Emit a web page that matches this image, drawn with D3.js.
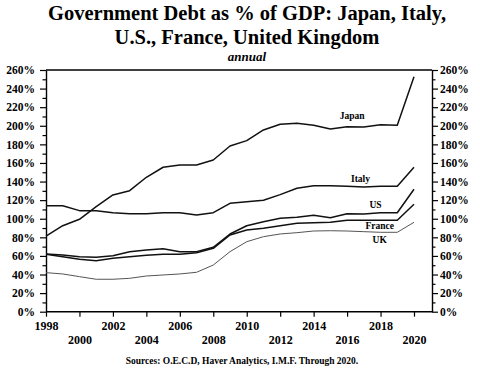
<!DOCTYPE html>
<html><head><meta charset="utf-8">
<script src="https://cdn.jsdelivr.net/npm/d3@7"></script>
<style>
body{margin:0;background:#fff;}
svg{display:block;font-family:"Liberation Serif","Times New Roman",serif;}
</style></head>
<body><svg id="c" width="480" height="369"></svg>
<script>
const years = d3.range(1998, 2021);
const japan  = [81.4,92.5,99.4,113,125.6,130.2,144.6,155.4,157.8,157.8,163.2,178.3,184,195.5,201.6,202.7,200.5,196.6,199,198.7,201.2,200.5,252.8];
const italy  = [114,114,108.7,108.7,106.5,105.4,105.4,106.5,106.5,104,106.5,116.6,118.3,119.9,125.9,132.8,135.6,135.6,134.9,134.2,134.9,134.9,155.4];
const us     = [62.1,61,59.2,58.5,60.2,64.6,66.4,67.8,64.6,64.6,69.3,83.6,92.5,96.8,100.5,101.6,103.7,101.1,105.4,105.1,106.5,106.5,131.7];
const france = [61.8,59.2,56.4,54.9,57.5,59.2,60.7,61.8,61.8,63.5,68.2,82.5,87.9,89.7,92.5,95.1,95.8,96.2,98.3,98.3,98.3,98.3,115.5];
const uk     = [42,40.6,37.7,34.9,34.9,35.9,38.4,39.5,40.6,42.4,50.2,64.6,75.3,80.7,83.6,85,86.8,87.1,86.8,86.1,85.4,85.4,96.2];
const seriesNames = ["Japan","Italy","US","France","UK"];
const yTicks = d3.range(0, 261, 20);
const xTicks = d3.range(1998, 2021, 2);

const svg = d3.select("#c");
const L = 46, R = 432, T = 70, B = 311.7;
const x = d3.scaleLinear().domain([1998, 2020]).range([L, 414]);
const y = d3.scaleLinear().domain([0, 260]).range([B, T]);

// title
svg.append("text").attr("x",247).attr("y",20).attr("text-anchor","middle")
  .attr("font-size",20.5).attr("font-weight","bold").text("Government Debt as % of GDP: Japan, Italy,");
svg.append("text").attr("x",247).attr("y",43.5).attr("text-anchor","middle")
  .attr("font-size",20.5).attr("font-weight","bold").text("U.S., France, United Kingdom");
svg.append("text").attr("x",247).attr("y",60.5).attr("text-anchor","middle")
  .attr("font-size",13).attr("font-weight","bold").attr("font-style","italic").text("annual");

// frame
svg.append("line").attr("x1",L).attr("x2",R).attr("y1",T).attr("y2",T).attr("stroke","#000").attr("stroke-width",1.4);

const fmt = d => d + "%";
function styleAxis(g){
  g.select(".domain").attr("stroke","#000").attr("stroke-width",1.4);
  g.selectAll(".tick line").attr("stroke","#000").attr("stroke-width",1.2);
  g.selectAll(".tick text").attr("font-family","Liberation Serif, serif").attr("font-weight","bold").attr("font-size",11.5).attr("fill","#000");
}
// minor ticks
const minor = d3.range(10, 260, 20);
svg.append("g").attr("transform",`translate(${L},0)`).call(d3.axisLeft(y).tickValues(minor).tickSize(3.5).tickFormat("").tickSizeOuter(0))
  .call(g=>{g.select(".domain").remove(); g.selectAll("line").attr("stroke","#000").attr("stroke-width",1.2);});
svg.append("g").attr("transform",`translate(${R},0)`).call(d3.axisRight(y).tickValues(minor).tickSize(3.5).tickFormat("").tickSizeOuter(0))
  .call(g=>{g.select(".domain").remove(); g.selectAll("line").attr("stroke","#000").attr("stroke-width",1.2);});

svg.append("g").attr("transform",`translate(${L},0)`)
  .call(d3.axisLeft(y).tickValues(yTicks).tickFormat(fmt).tickSize(6).tickSizeOuter(0).tickPadding(5))
  .call(styleAxis);
svg.append("g").attr("transform",`translate(${R},0)`)
  .call(d3.axisRight(y).tickValues(yTicks).tickFormat(fmt).tickSize(6).tickSizeOuter(0).tickPadding(2))
  .call(styleAxis);

// x axis
const xg = svg.append("g").attr("transform",`translate(0,${B})`)
  .call(d3.axisBottom(x).tickValues(xTicks).tickFormat(d3.format("d")).tickSize(5).tickSizeOuter(0).tickPadding(3))
  .call(styleAxis);
xg.select(".domain").attr("d",`M${L},0H${R}`);
xg.selectAll(".tick text").attr("font-size",12).attr("dy",(d,i)=> i%2 ? "2.05em" : "0.85em");

// lines
const data = [japan, italy, us, france, uk];
const line = d3.line().x((d,i)=>x(years[i])).y(d=>y(d));
svg.append("g").selectAll("path").data(data).join("path")
  .attr("d", line).attr("fill","none")
  .attr("stroke",(d,i)=> i===4 ? "#555" : "#111")
  .attr("stroke-width",(d,i)=> i===4 ? 1 : 1.5)
  .attr("stroke-linejoin","round");

// labels
const labelPos = [[2016.3,210.9],[2016.8,143.5],[2017.7,114.8],[2017.95,92.2],[2017.95,77.9]];
svg.append("g").selectAll("text").data(seriesNames).join("text")
  .attr("x",(d,i)=>x(labelPos[i][0])).attr("y",(d,i)=>y(labelPos[i][1]))
  .attr("text-anchor","middle").attr("dy","0.35em")
  .attr("font-size",9.5).attr("font-weight","bold").text(d=>d);

svg.append("text").attr("x",242).attr("y",364).attr("text-anchor","middle")
  .attr("font-size",9.5).attr("font-weight","bold").text("Sources: O.E.C.D, Haver Analytics, I.M.F. Through 2020.");
</script></body></html>
